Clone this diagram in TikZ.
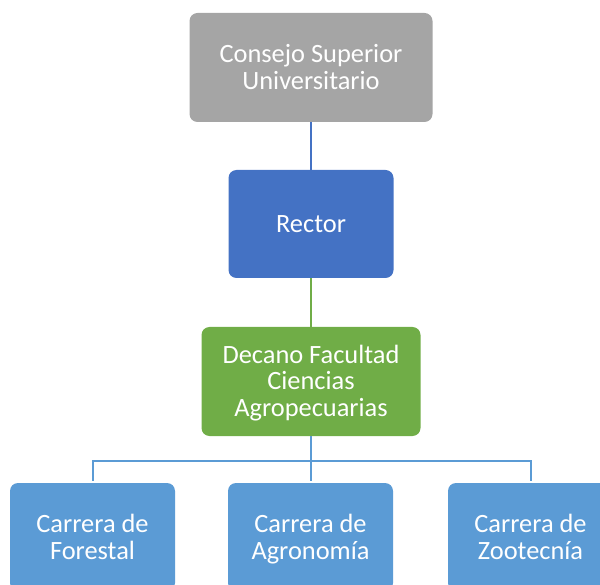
\documentclass[tikz,border=0pt]{standalone}
\usepackage{fontspec}
\setmainfont{Carlito}
\usepackage{tikz}
\usetikzlibrary{positioning}

\definecolor{grisbox}{HTML}{A5A5A5}
\definecolor{azulbox}{HTML}{4472C4}
\definecolor{verdebox}{HTML}{70AD47}
\definecolor{celestebox}{HTML}{5B9BD5}

\newcommand{\tallo}{\rule[-8pt]{0pt}{33pt}}
\newcommand{\letracargo}{\fontsize{26.4}{27}\selectfont\lineskiplimit=-100pt\relax}

\tikzset{
  cargo/.style={rounded corners=8pt, text=white, align=center, inner sep=0pt,
    font=\letracargo},
  linea/.style={line width=2pt}
}

\begin{document}
\begin{tikzpicture}[x=1pt, y=-1pt]
\useasboundingbox (0,0) rectangle (600,585);
\clip (0,0) rectangle (600,585);
% cajas
\node[cargo, fill=grisbox, minimum width=243pt, minimum height=109pt] (consejo) at (311,67.5) {\tallo Consejo Superior\\\tallo Universitario};
\node[cargo, fill=azulbox, minimum width=165pt, minimum height=108pt] (rector) at (311,224) {\tallo Rector};
\node[cargo, fill=verdebox, minimum width=219pt, minimum height=109pt] (decano) at (311,381.5) {\tallo Decano Facultad\\\tallo Ciencias\\\tallo Agropecuarias};
\node[cargo, fill=celestebox, minimum width=165pt, minimum height=108pt] (forestal) at (92.5,537) {\tallo Carrera de\\\tallo Forestal};
\node[cargo, fill=celestebox, minimum width=165pt, minimum height=108pt] (agronomia) at (310.5,537) {\tallo Carrera de\\\tallo Agronomía};
\node[cargo, fill=celestebox, minimum width=165pt, minimum height=108pt] (zootecnia) at (530.5,537) {\tallo Carrera de\\\tallo Zootecnía};
% conectores
\coordinate (bus) at (311,461);
\draw[linea, azulbox] (consejo.south) -- (rector.north);
\draw[linea, verdebox] (rector.south) -- (decano.north);
\draw[linea, celestebox] (decano.south) -- (bus);
\foreach \c in {forestal, agronomia, zootecnia}
  \draw[linea, celestebox] (bus) -| ([yshift=2pt]\c.north);
\end{tikzpicture}
\end{document}
